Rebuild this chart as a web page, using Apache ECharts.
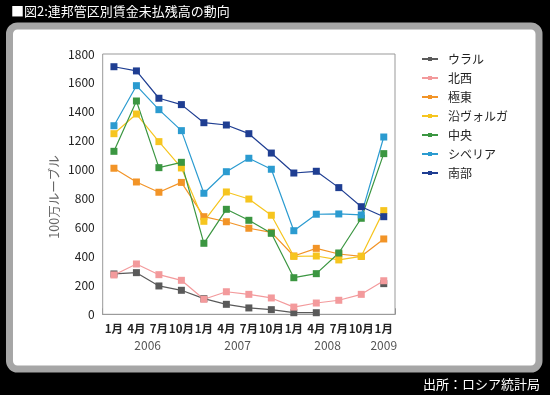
<!DOCTYPE html>
<html><head><meta charset="utf-8">
<script src="https://cdn.jsdelivr.net/npm/echarts@6/dist/echarts.min.js"></script>
<style>html,body{margin:0;padding:0;background:#000}#c{width:550px;height:395px}</style>
</head><body><div id="c"></div>
<script>
const categories = ['1月','4月','7月','10月','1月','4月','7月','10月','1月','4月','7月','10月','1月'];
const yearLabels = ['2006','2007','2008','2009'];
const yearSpans = [[0,3],[4,7],[8,11],[12,12]];
const ural      = [279,288,196,166,108,69,44,32,11,11,null,null,212];
const northwest = [272,348,274,235,104,156,138,113,50,78,97,138,232];
const farEast   = [1010,915,844,912,675,640,595,567,403,456,417,401,521];
const volga     = [1249,1385,1194,1012,643,846,797,685,401,403,376,401,717];
const central   = [1127,1475,1014,1051,491,726,650,560,253,281,424,664,1111];
const siberia   = [1304,1581,1415,1270,837,986,1079,1003,578,692,694,687,1226];
const south     = [1712,1683,1494,1450,1325,1309,1249,1115,977,989,876,744,675];
const seriesNames = ['ウラル','北西','極東','沿ヴォルガ','中央','シベリア','南部'];
const seriesData = [ural, northwest, farEast, volga, central, siberia, south];
const colors = ['#5a5a5a','#f39a9c','#f29427','#f6c51f','#3b9641','#2b9bd0','#1f3e92'];
const titleText = '■図2:連邦管区別賃金未払残高の動向';
const sourceText = '出所：ロシア統計局';
const yName = '100万ルーブル';

const FONT = '"Noto Sans CJK JP", "Noto Sans", sans-serif';
const chart = echarts.init(document.getElementById('c'));

const series = seriesNames.map((n, i) => ({
  name: n, type: 'line', data: seriesData[i],
  symbol: 'rect', symbolSize: 7, connectNulls: false,
  lineStyle: { width: 1.2, color: colors[i] },
  itemStyle: { color: colors[i] },
  emphasis: { disabled: true },
  animation: false
}));

chart.setOption({
  backgroundColor: '#000',
  animation: false,
  textStyle: { fontFamily: FONT },
  grid: { left: 102.7, right: 155, top: 54, bottom: 80.7, show: true, backgroundColor: '#fff', borderColor: '#999', borderWidth: 1, z: 1 },
  legend: {
    orient: 'vertical', left: 416, top: 48,
    itemWidth: 16, itemHeight: 5, itemGap: 7,
    textStyle: { fontFamily: FONT, fontSize: 12, color: '#222', padding: [0,0,0,5] },
    data: seriesNames
  },
  xAxis: {
    type: 'category', data: categories, boundaryGap: true,
    axisLine: { show: true, lineStyle: { color: '#888' } },
    axisTick: { show: true, inside: true, length: 6, lineStyle: { color: '#888' } },
    axisLabel: { interval: 0, fontFamily: FONT, fontSize: 11.5, fontWeight: 'bold', color: '#222', margin: 9 },
    splitLine: { show: false }
  },
  yAxis: {
    type: 'value', min: 0, max: 1800, interval: 200,
    axisLine: { show: false }, axisTick: { show: false },
    axisLabel: { fontFamily: FONT, fontSize: 12, color: '#222', margin: 8, formatter: v => String(v) },
    splitLine: { show: true, lineStyle: { color: '#cfcfcf', type: [6, 4], width: 1 } }
  },
  series: series
});

const elems = [
  { type: 'rect', z: -10, shape: { x: 9.5, y: 26, width: 529.5, height: 343, r: 8 },
    style: { fill: '#fff', stroke: '#a6a6a6', lineWidth: 7 } },
  { type: 'text', z: 10, x: 11, y: 11, style: { text: titleText, fill: '#fff', font: '13px ' + FONT, verticalAlign: 'middle' } },
  { type: 'text', z: 10, x: 540, y: 384, style: { text: sourceText, fill: '#fff', font: '13px ' + FONT, align: 'right', verticalAlign: 'middle' } },
  { type: 'text', z: 10, x: 54, y: 197, rotation: Math.PI / 2,
    style: { text: yName, fill: '#666', font: '12.5px ' + FONT, align: 'center', verticalAlign: 'middle' } }
];
yearLabels.forEach((y, k) => {
  const a = chart.convertToPixel({ xAxisIndex: 0 }, yearSpans[k][0]);
  const b = chart.convertToPixel({ xAxisIndex: 0 }, yearSpans[k][1]);
  elems.push({ type: 'text', z: 10, x: (a + b) / 2, y: 345,
    style: { text: y, fill: '#555', font: '12px ' + FONT, align: 'center', verticalAlign: 'middle' } });
});
chart.setOption({ graphic: { elements: elems } });
</script></body></html>
